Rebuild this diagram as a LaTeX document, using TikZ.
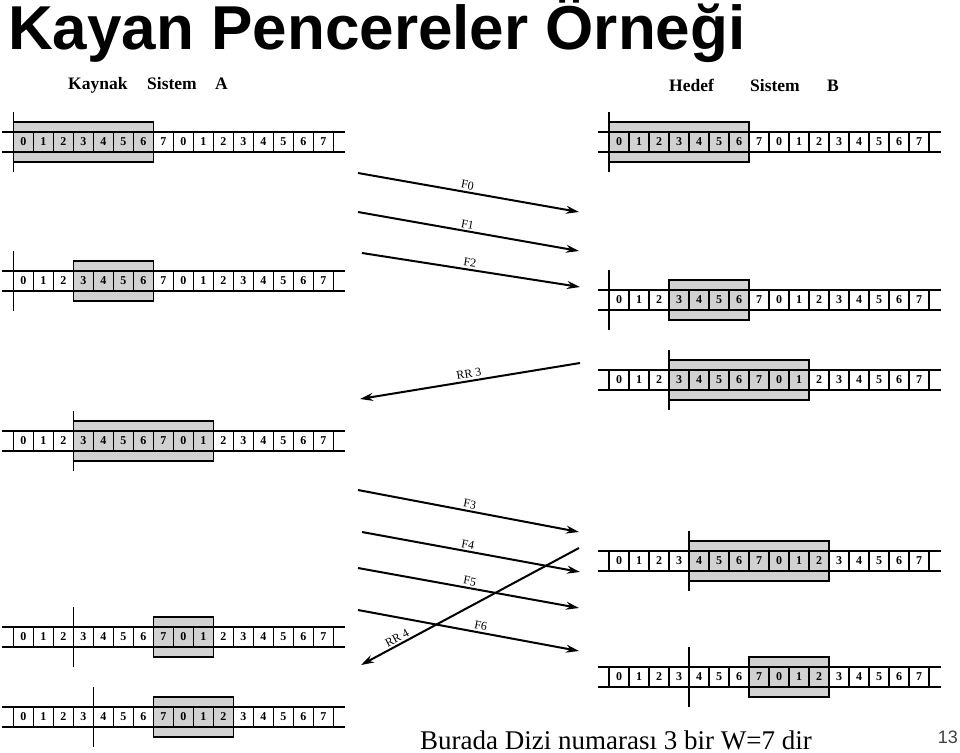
\documentclass[tikz,border=0pt]{standalone}
\usepackage{fontspec}
\setmainfont{Liberation Serif}
\newfontfamily\titlefont{Liberation Sans}
\usetikzlibrary{arrows.meta}

\newcommand{\seqstrip}[6]{%
\draw[window] ({#2+20*#4}, {#3-10}) rectangle ({#2+20*#5}, {#3+30});
\draw[rail] ({#2-11.5}, #3) -- ({#2+331.5}, #3);
\draw[rail] ({#2-11.5}, {#3+20}) -- ({#2+331.5}, {#3+20});
\foreach \i in {0,...,15} {
  \pgfmathtruncatemacro{\cellno}{mod(\i,8)}
  \draw[cellbar] ({#2+20*\i}, #3) -- ++(0, 20);
  \node[cellnum] (#1-\i) at ({#2+20*\i+10}, {#3+10}) {\cellno};
}
\draw[cellbar] ({#2+320}, #3) -- ++(0, 20);
\draw[pointer] ({#2+20*#6}, {#3-20}) -- ++(0, 60);
}

\begin{document}
\begin{tikzpicture}[x=1pt, y=-1pt,
  window/.style={fill=black!18, draw=black, line width=1.3pt},
  rail/.style={line width=1.4pt},
  cellbar/.style={line width=1.2pt},
  pointer/.style={line width=1.1pt},
  cellnum/.style={font=\fontsize{12}{12}\selectfont\bfseries, inner sep=0pt},
  hdr/.style={font=\fontsize{17.5}{17.5}\selectfont\bfseries, inner sep=0pt, anchor=base west},
  frame/.style={line width=2pt, -{Stealth[length=13pt, width=8pt]}},
  ack/.style={line width=2pt, {Stealth[length=13pt, width=8pt]}-},
  flabel/.style={font=\fontsize{12}{12}\selectfont, sloped, above, inner sep=2pt}]
\useasboundingbox (0, 0) rectangle (960, 752);

\node[anchor=base west, inner sep=0pt, font=\titlefont\bfseries\fontsize{62}{62}\selectfont] (title) at (8, 50) {Kayan Pencereler Örneği};

\node[hdr] (srcw) at (68, 89) {Kaynak};
\node[hdr] (srcs) at (147, 89) {Sistem};
\node[hdr] (srcl) at (215, 89) {A};
\node[hdr] (dstw) at (669, 91) {Hedef};
\node[hdr] (dsts) at (750, 91) {Sistem};
\node[hdr] (dstl) at (827, 91) {B};

\seqstrip{a1}{13.3}{132}{0}{7}{0}
\seqstrip{a2}{13.3}{271}{3}{7}{0}
\seqstrip{a3}{13.3}{431}{3}{10}{3}
\seqstrip{a4}{13.3}{627}{7}{10}{3}
\seqstrip{a5}{13.3}{707}{7}{11}{4}

\seqstrip{b1}{609}{132}{0}{7}{0}
\seqstrip{b2}{609}{290}{3}{7}{0}
\seqstrip{b3}{609}{370}{3}{10}{3}
\seqstrip{b4}{609}{551}{4}{11}{4}
\seqstrip{b5}{609}{667}{7}{11}{4}

\coordinate (f0s) at (358, 173);
\coordinate (f0e) at (579, 212);
\coordinate (f1s) at (358, 212);
\coordinate (f1e) at (579, 251);
\coordinate (f2s) at (362, 253);
\coordinate (f2e) at (580, 287);
\coordinate (rr3s) at (580, 363);
\coordinate (rr3e) at (360, 399);
\coordinate (f3s) at (358, 490);
\coordinate (f3e) at (579, 532);
\coordinate (f4s) at (362, 532);
\coordinate (f4e) at (580, 572);
\coordinate (f5s) at (358, 568);
\coordinate (f5e) at (579, 608);
\coordinate (f6s) at (358, 610);
\coordinate (f6e) at (579, 651);
\coordinate (rr4s) at (579, 548);
\coordinate (rr4e) at (361, 665);

\draw[frame] (f0s) -- node[flabel, pos=0.49] {F0} (f0e);
\draw[frame] (f1s) -- node[flabel, pos=0.49] {F1} (f1e);
\draw[frame] (f2s) -- node[flabel, pos=0.49] {F2} (f2e);
\draw[ack] (rr3e) -- node[flabel, pos=0.5] {RR 3} (rr3s);
\draw[frame] (f3s) -- node[flabel, pos=0.5] {F3} (f3e);
\draw[frame] (f4s) -- node[flabel, pos=0.48] {F4} (f4e);
\draw[frame] (f5s) -- node[flabel, pos=0.5] {F5} (f5e);
\draw[frame] (f6s) -- node[flabel, pos=0.55] {F6} (f6e);
\draw[ack] (rr4e) -- node[flabel, pos=0.18] {RR 4} (rr4s);

\node[anchor=base west, inner sep=0pt, font=\fontsize{27}{27}\selectfont] (note) at (420, 749) {Burada Dizi numarası 3 bir W=7 dir};
\node[anchor=base east, inner sep=0pt, text=black!75, font=\titlefont\fontsize{18}{18}\selectfont] (page) at (958, 743) {13};
\end{tikzpicture}
\end{document}
